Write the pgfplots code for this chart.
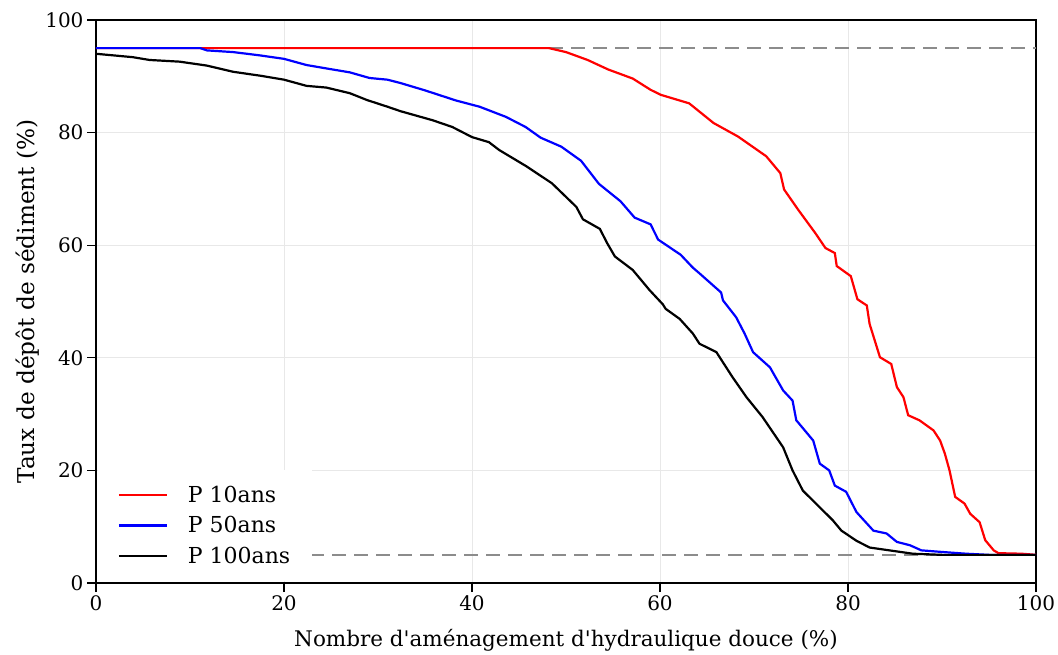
\documentclass[border=0pt]{standalone}
\usepackage{fontspec}
\setmainfont{DejaVu Serif}
\usepackage{pgfplots}
\pgfplotsset{compat=1.18}
\definecolor{gridc}{RGB}{232,232,232}
\definecolor{dashgray}{RGB}{140,140,140}
\begin{document}
\begin{tikzpicture}[font=\fontsize{20}{24}\selectfont]
\useasboundingbox (-96pt,-71pt) rectangle (962pt,583pt);
\begin{axis}[
  at={(0,0)}, anchor=south west,
  scale only axis, width=940pt, height=563pt,
  xmin=0, xmax=100, ymin=0, ymax=100,
  xtick={0,20,...,100}, ytick={0,20,...,100},
  tick align=outside, xtick pos=bottom, ytick pos=left,
  major tick length=9pt,
  tick style={black, line width=1.2pt},
  axis line style={black, line width=1.3pt},
  grid=major, grid style={color=gridc, line width=1pt},
  /pgf/number format/assume math mode=true,
  xlabel={Nombre d\textquotesingle aménagement d\textquotesingle hydraulique douce (\%)},
  ylabel={Taux de dépôt de sédiment (\%)},
  x label style={at={(axis description cs:0.5,-0.1012)}, anchor=center, font=\fontsize{21.5}{26}\selectfont},
  y label style={at={(axis description cs:-0.0723,0.5)}, anchor=center, font=\fontsize{23.2}{28}\selectfont},
  legend style={at={(axis cs:0,0)}, xshift=1.5pt, yshift=1.5pt, anchor=south west, fill=white, draw=none,
    legend cell align=left, inner xsep=20pt, inner ysep=14pt, row sep=9pt,
    font=\fontsize{22}{26}\selectfont},
  legend image code/.code={\draw[#1] (0pt,0pt) -- (48pt,0pt);},
  /tikz/every odd column/.append style={column sep=18pt},
]
\addplot[dashgray, line width=2.5pt, dash pattern=on 14pt off 8pt, forget plot] coordinates {(48.2,95) (100,95)};
\addplot[dashgray, line width=2.5pt, dash pattern=on 14pt off 8pt, forget plot] coordinates {(22.8,5) (100,5)};
\addplot[red, line width=2.2pt] coordinates {
(0,95) (48.2,95) (50,94.3) (52.3,92.9) (54.5,91.2) (57.1,89.6) (59,87.6) (60.1,86.7)
(63.1,85.2) (65.7,81.7) (68.3,79.3) (71.3,75.8) (72.8,72.8) (73.2,69.9) (74.7,66.3)
(76.5,62.2) (77.6,59.5) (78.6,58.6) (78.8,56.3) (80.3,54.5) (81.0,50.4) (82.0,49.3)
(82.3,46.0) (83.4,40.1) (84.6,38.9) (85.2,34.8) (85.9,33.0) (86.4,29.8) (87.6,28.9)
(89.1,27.1) (89.8,25.3) (90.3,23.0) (90.8,20.0) (91.4,15.3) (92.4,14.1) (93.0,12.3)
(94.0,10.8) (94.6,7.6) (95.5,5.8) (96.0,5.3) (98.5,5.2) (100,5)};
\addlegendentry{P 10ans}
\addplot[blue, line width=2.2pt] coordinates {
(0,95) (11.1,95) (11.8,94.6) (14.6,94.3) (17.5,93.7) (20,93.1) (22.4,92) (24.5,91.4)
(27,90.7) (29.1,89.7) (31,89.4) (32.4,88.8) (35,87.5) (38.3,85.7) (40.8,84.6) (43.6,82.8)
(45.7,81.0) (47.3,79.1) (49.5,77.5) (51.6,75.0) (53.5,70.9) (55.8,67.8) (57.3,64.9)
(59.0,63.7) (59.8,61.0) (62.2,58.3) (63.5,56.0) (64.2,55.0) (66.5,51.6) (66.7,50.2)
(68.1,47.2) (69,44.3) (69.9,41) (71.7,38.3) (73.1,34.2) (74.1,32.4) (74.5,28.9)
(76.3,25.3) (77,21.2) (78,20) (78.6,17.3) (79.8,16.2) (80.9,12.6) (82.7,9.3) (84.1,8.8)
(85.2,7.3) (86.6,6.7) (87.8,5.8) (90.1,5.5) (92.6,5.2) (95,5) (100,5)};
\addlegendentry{P 50ans}
\addplot[black, line width=2.2pt] coordinates {
(0,94) (3.9,93.4) (5.7,92.9) (8.9,92.6) (11.8,91.9) (14.6,90.8) (17.5,90.1) (20,89.4)
(22.4,88.3) (24.5,88) (27,87) (28.8,85.8) (31,84.6) (32.4,83.8) (35.8,82.2) (37.9,81)
(40,79.2) (41.8,78.3) (42.9,76.9) (45.8,74) (48.5,71) (51.1,66.8) (51.8,64.6) (53.6,62.9)
(54.4,60.3) (55.2,58) (57.1,55.6) (58.9,52) (60.3,49.5) (60.6,48.7) (62.1,46.9)
(63.5,44.3) (64.2,42.5) (66,41) (67.7,36.6) (69.2,33) (70.9,29.5) (73.1,24.1) (74.1,20)
(75.2,16.4) (76.6,14.1) (78.4,11.1) (79.3,9.3) (80.9,7.5) (82.3,6.3) (84.4,5.8)
(86.9,5.2) (90,5) (100,5)};
\addlegendentry{P 100ans}
\end{axis}
\end{tikzpicture}
\end{document}
